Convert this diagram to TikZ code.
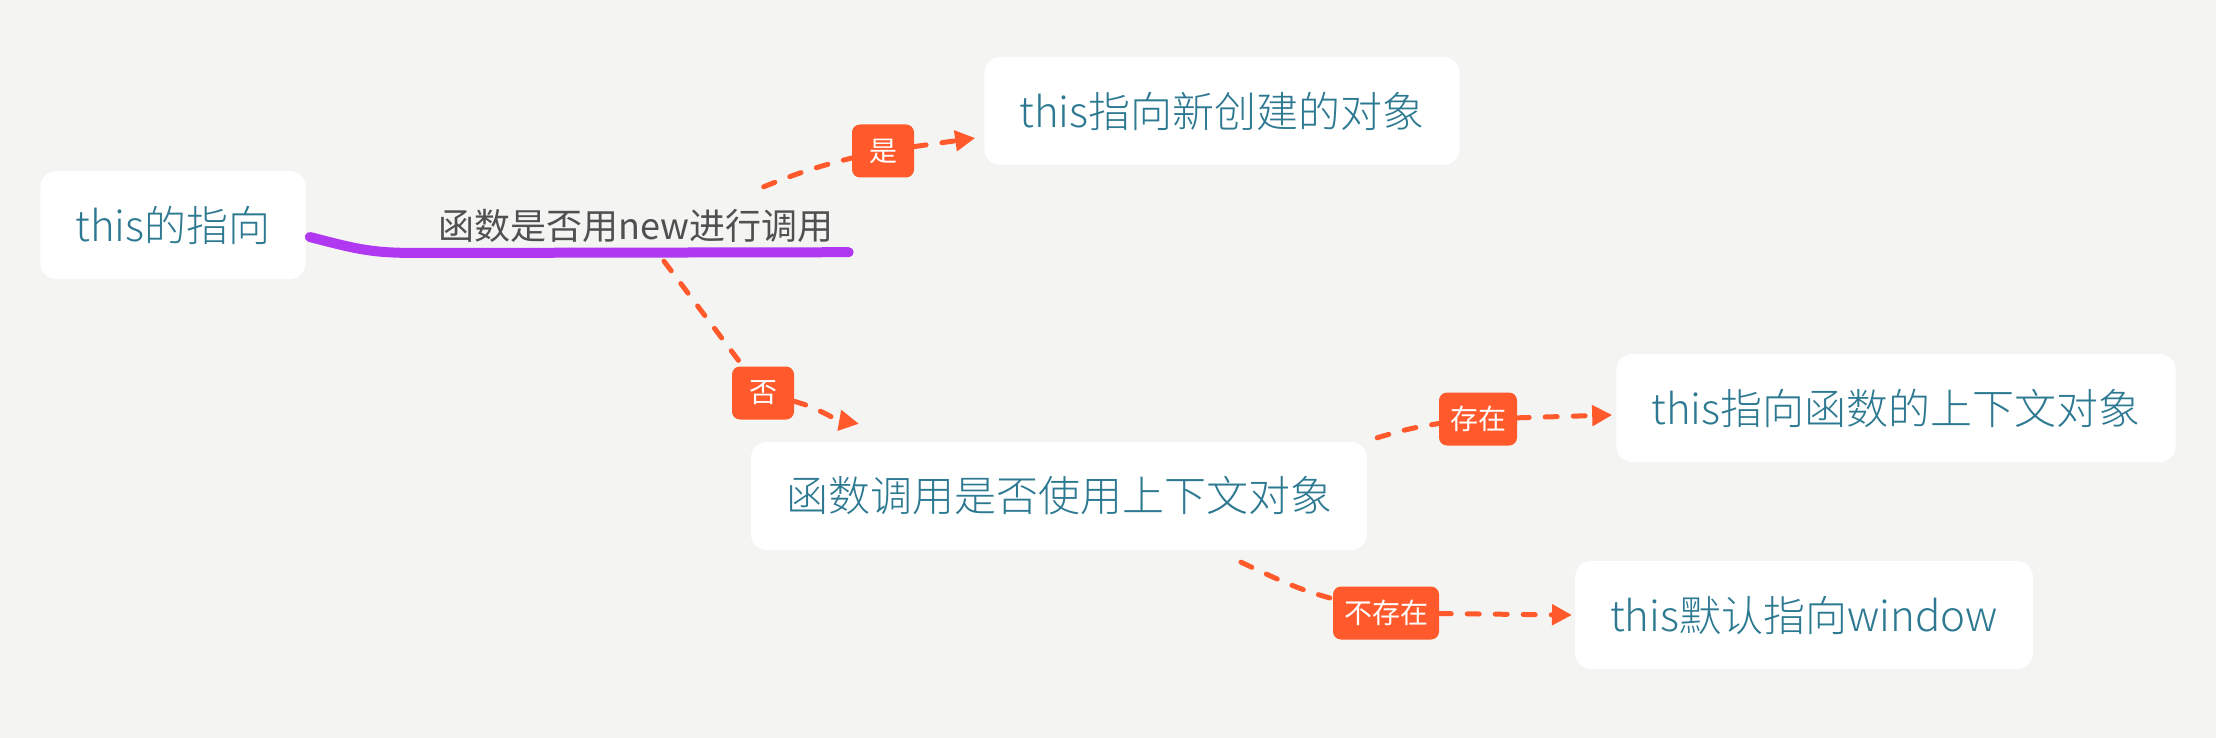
\documentclass[tikz,border=0pt]{standalone}
\usepackage{fontspec}
\setmainfont{Noto Sans CJK SC}[UprightFont={* Light}]
\newfontfamily\tagfont{Noto Sans CJK SC}
\usetikzlibrary{positioning,arrows.meta}
\definecolor{mybg}{RGB}{244,245,242}
\definecolor{myteal}{RGB}{45,121,145}
\definecolor{myorange}{RGB}{255,89,44}
\definecolor{mypurple}{RGB}{176,56,240}
\definecolor{mygray}{RGB}{80,80,80}

\begin{document}
\begin{tikzpicture}[x=1pt,y=-1pt,
  topic/.style={fill=white,rounded corners=16pt,minimum height=108pt,inner xsep=35pt,
    text=myteal,font=\fontsize{42}{50}\selectfont},
  tag/.style={fill=myorange,rounded corners=8pt,minimum height=53pt,minimum width=62pt,
    inner xsep=11pt,text=white,font=\tagfont\fontsize{28}{34}\selectfont},
  dlink/.style={myorange,line width=5pt,line cap=round,dash pattern=on 12pt off 16pt},
  arrowed/.style={-{Triangle[length=20pt,width=20pt]}},
  branch/.style={mypurple,line width=10pt,line cap=round}]

  \path[use as bounding box,fill=mybg] (0,0) rectangle (2216,738);

  % topics
  \node[topic] (root) at (173,225) {this的指向};
  \node[text=mygray,font=\tagfont\fontsize{36}{42}\selectfont,minimum width=425pt,minimum height=52pt,
    inner sep=0pt] (newq) at (636,226) {函数是否用new进行调用};
  \node[topic] (newobj) at (1222,111) {this指向新创建的对象};
  \node[topic] (ctxq) at (1059,496) {函数调用是否使用上下文对象};
  \node[topic] (ctxobj) at (1896,408) {this指向函数的上下文对象};
  \node[topic] (win) at (1804,615) {this默认指向window};

  % tags on the links
  \node[tag] (yes) at (883,151) {是};
  \node[tag] (no) at (763,393) {否};
  \node[tag] (has) at (1478,419) {存在};
  \node[tag] (hasnot) at (1386,613) {不存在};

  % main branch
  \draw[branch] ([xshift=4pt,yshift=-12pt]root.east) .. controls (360,250) and (372,253) .. (420,253)
    -- (newq.south east);

  % dashed links
  \draw[dlink] ([xshift=-85pt,yshift=13pt]newq.north east) to[bend left=4] (yes);
  \draw[dlink,arrowed] (yes) -- ([xshift=-9pt,yshift=-27pt]newobj.west);

  \draw[dlink] ([xshift=28pt,yshift=-9pt]newq.south) -- (no);
  \draw[dlink,arrowed] (no) to[out=-15,in=170] ([xshift=-200pt,yshift=18pt]ctxq.north);

  \draw[dlink] ([xshift=10pt,yshift=4pt]ctxq.north east) to[bend left=4] (has);
  \draw[dlink,arrowed] (has) -- ([xshift=-4pt,yshift=-7pt]ctxobj.west);

  \draw[dlink] ([xshift=182pt,yshift=-12pt]ctxq.south) to[out=-25,in=165] (hasnot);
  \draw[dlink,arrowed] (hasnot) -- ([xshift=-3pt]win.west);

\end{tikzpicture}
\end{document}
